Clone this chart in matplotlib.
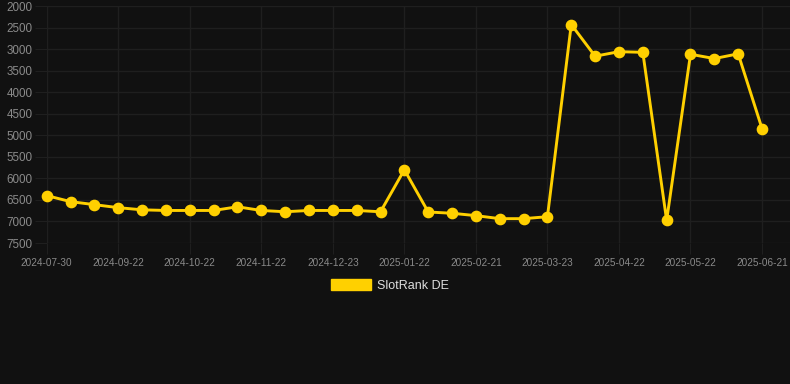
import matplotlib
matplotlib.use("Agg")
import matplotlib.pyplot as plt
from matplotlib.patches import Patch

plt.rcParams['font.family'] = ['Liberation Sans', 'DejaVu Sans']

tick_labels = ["2024-07-30", "2024-09-22", "2024-10-22", "2024-11-22", "2024-12-23",
               "2025-01-22", "2025-02-21", "2025-03-23", "2025-04-22", "2025-05-22",
               "2025-06-21"]
ranks = [6400, 6540, 6610, 6680, 6730, 6745, 6745, 6745, 6660, 6745,
         6775, 6745, 6745, 6745, 6775, 5800, 6780, 6810, 6865, 6935,
         6935, 6890, 2430, 3165, 3060, 3075, 6975, 3120, 3220, 3110,
         4845]
series_name = "SlotRank DE"

BG = "#111111"
GRID = "#1f1f1f"
LINE = "#ffd000"
TICKC = "#8a8a8a"

W, H = 790, 384
fig = plt.figure(figsize=(W / 100, H / 100), dpi=100, facecolor=BG)
left = 46.7 / W
bottom = 1 - 243 / H
top = 1 - 6 / H
ax = fig.add_axes([left, bottom, 1 - left, top - bottom], facecolor=BG)

x = list(range(len(ranks)))
ax.plot(x, ranks, color=LINE, lw=2.1, marker="o", ms=7.4,
        markerfacecolor=LINE, markeredgecolor=LINE, zorder=3, clip_on=False)

ax.set_ylim(7500, 2000)
ax.set_yticks(range(2000, 7501, 500))
ax.set_xlim(0, 30 + 28 / 23.87)
ax.set_xticks(range(0, len(ranks), 3))
ax.set_xticklabels(tick_labels)

ax.grid(True, color=GRID, lw=1)
ax.set_axisbelow(True)
for s in ax.spines.values():
    s.set_visible(False)
ax.tick_params(axis="y", length=9, color=GRID, labelcolor=TICKC, labelsize=8.4, pad=1)
ax.tick_params(axis="x", length=8, color=GRID, labelcolor=TICKC, labelsize=7.2, pad=3)

handle = Patch(facecolor=LINE, edgecolor=LINE)
fig.legend([handle], [series_name], loc="center", bbox_to_anchor=(390 / W, 1 - 285.5 / H),
           frameon=False, fontsize=9, labelcolor="#dddddd", handlelength=3.2,
           handleheight=0.95, handletextpad=0.5)

fig.savefig("out.png", dpi=100, facecolor=BG)
